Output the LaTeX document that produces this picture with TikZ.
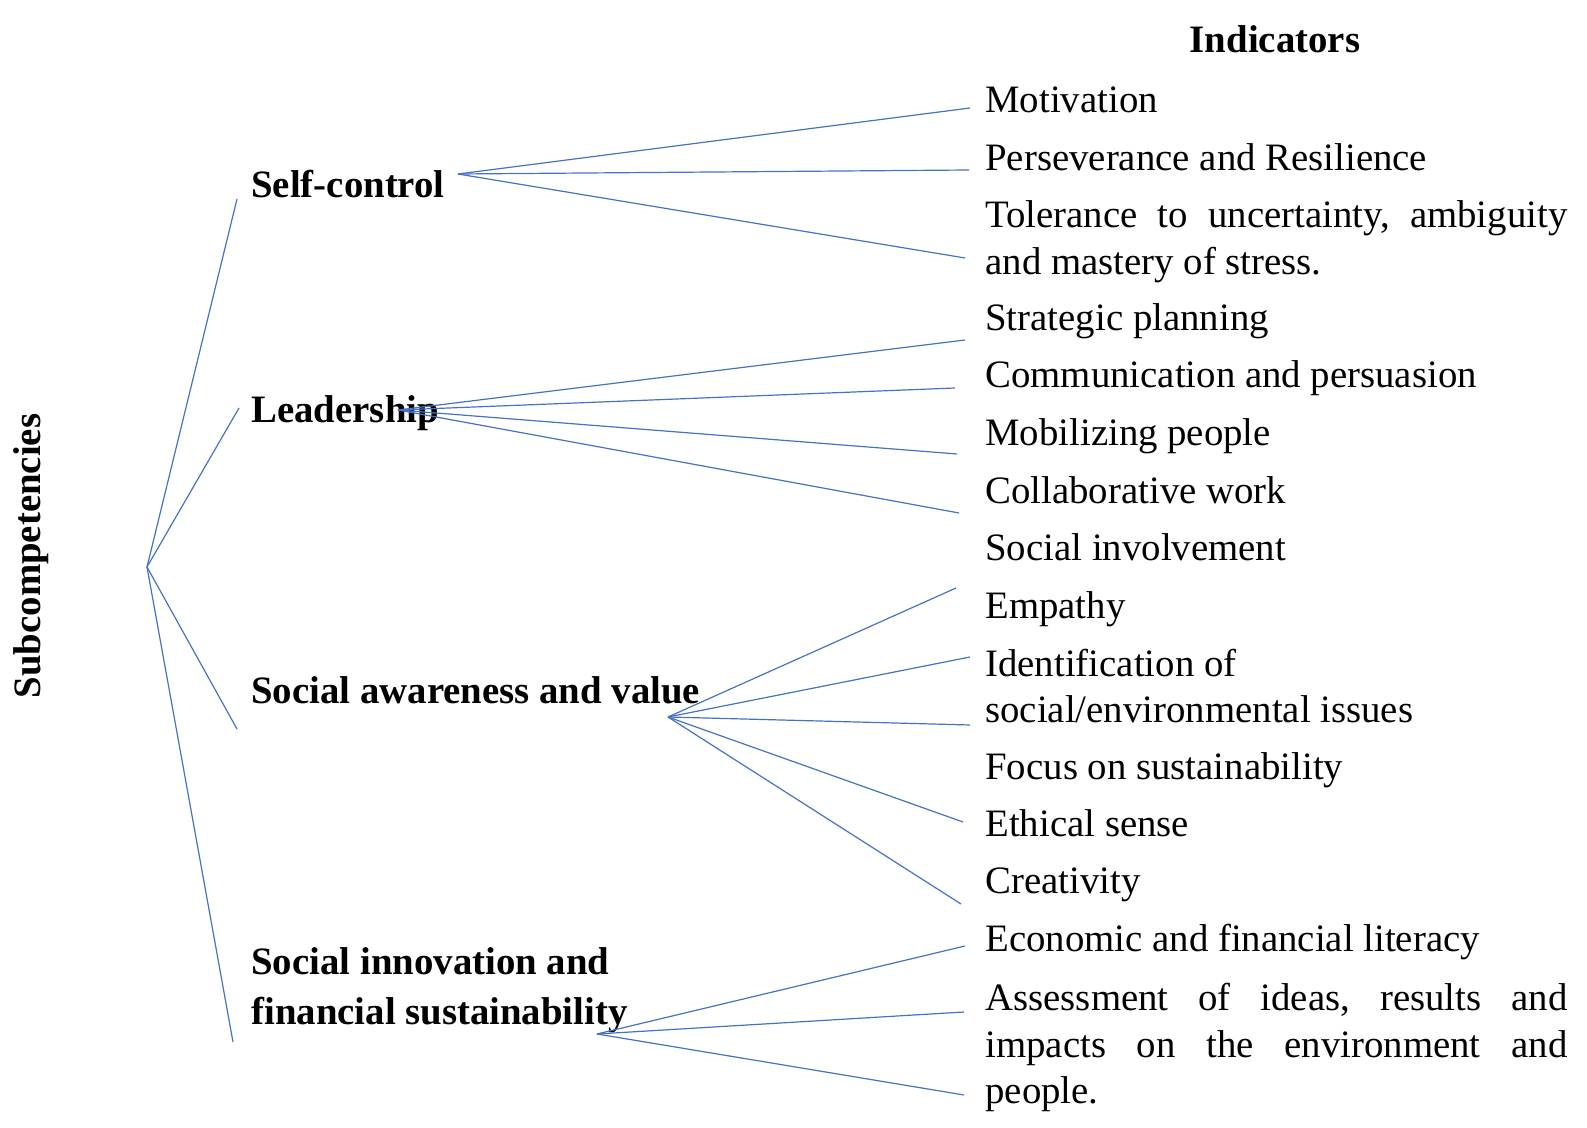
\documentclass[tikz,border=0pt]{standalone}
\usepackage{fontspec}
\setmainfont{Liberation Serif}
\definecolor{linkblue}{HTML}{4472C4}
\newcommand{\txtsize}{\fontsize{19.4}{23.25}\selectfont}
\newcommand{\fullline}[1]{\leavevmode\hbox to\linewidth{#1}}
\newcommand{\natspace}{\spaceskip=0pt\xspaceskip=0pt\relax}
\begin{document}
\begin{tikzpicture}[x=0.5pt,y=-0.5pt,
  ind/.style={anchor=base west, inner sep=0pt, font=\txtsize},
  indpar/.style={anchor=base west, inner sep=0pt, font=\txtsize, text width=291pt, align=left},
  subc/.style={anchor=base west, inner sep=0pt, font=\txtsize\bfseries},
  link/.style={draw=linkblue, line width=0.6pt}]
\useasboundingbox (0,0) rectangle (1587,1128);
% headings
\node[inner sep=0pt, anchor=base, font=\txtsize\bfseries] (hInd) at (1275,52.5) {Indicators};
\node[inner sep=0pt, anchor=base, rotate=90, font=\txtsize\bfseries] (hSub) at (40,556) {Subcompetencies};
% subcompetencies
\node[subc] (sc) at (251,197.5) {Self-control};
\node[subc] (ld) at (251,422.5) {Leadership};
\node[subc] (sa) at (251,703.5) {Social awareness and value};
\node[subc, text width=300pt, align=left] (si) at (251,974.5) {\natspace Social innovation and\\[1.5pt]financial sustainability};
% indicators
\node[ind] (i1) at (985,112.5) {Motivation};
\node[ind] (i2) at (985,170.5) {Perseverance and Resilience};
\node[indpar] (i3) at (985,228) {\natspace\fullline{Tolerance\hfill to\hfill uncertainty,\hfill ambiguity}\\and mastery of stress.};
\node[ind] (i4) at (985,330.5) {Strategic planning};
\node[ind] (i5) at (985,387.5) {Communication and persuasion};
\node[ind] (i6) at (985,445.5) {Mobilizing people};
\node[ind] (i7) at (985,503.5) {Collaborative work};
\node[ind] (i8) at (985,561) {Social involvement};
\node[ind] (i9) at (985,618.5) {Empathy};
\node[indpar] (i10) at (985,676.5) {\natspace Identification of\\social/environmental issues};
\node[ind] (i11) at (985,779.5) {Focus on sustainability};
\node[ind] (i12) at (985,836.5) {Ethical sense};
\node[ind] (i13) at (985,893.5) {Creativity};
\node[ind] (i14) at (985,951.5) {Economic and financial literacy};
\node[indpar] (i15) at (985,1010.5) {\natspace\fullline{Assessment\hfill of\hfill ideas,\hfill results\hfill and}\\\fullline{impacts\hfill on\hfill the\hfill environment\hfill and}\\people.};
% connector points
\coordinate (root) at (147,567);
\coordinate (rsc) at (237,199);
\coordinate (rld) at (239,408);
\coordinate (rsa) at (237,729);
\coordinate (rsi) at (233,1042);
\coordinate (osc) at (458,174);
\coordinate (old) at (398,410);
\coordinate (osa) at (668,717);
\coordinate (osi) at (597,1034);
\coordinate (e1) at (970,108);
\coordinate (e2) at (969,170);
\coordinate (e3) at (965,258);
\coordinate (e4) at (965,340);
\coordinate (e5) at (955,388);
\coordinate (e6) at (957,454);
\coordinate (e7) at (959,513);
\coordinate (e9) at (956,588);
\coordinate (e10) at (970,657);
\coordinate (e10b) at (970,725);
\coordinate (e12) at (963,822);
\coordinate (e13) at (961,904);
\coordinate (e14) at (965,946);
\coordinate (e15) at (964,1012);
\coordinate (e15b) at (964,1095);
% connectors
\draw[link] (rsc) -- (root) -- (rsi);
\draw[link] (rld) -- (root) -- (rsa);
\foreach \e in {e1,e2,e3} \draw[link] (osc) -- (\e);
\foreach \e in {e4,e5,e6,e7} \draw[link] (old) -- (\e);
\foreach \e in {e9,e10,e10b,e12,e13} \draw[link] (osa) -- (\e);
\foreach \e in {e14,e15,e15b} \draw[link] (osi) -- (\e);
\end{tikzpicture}
\end{document}
